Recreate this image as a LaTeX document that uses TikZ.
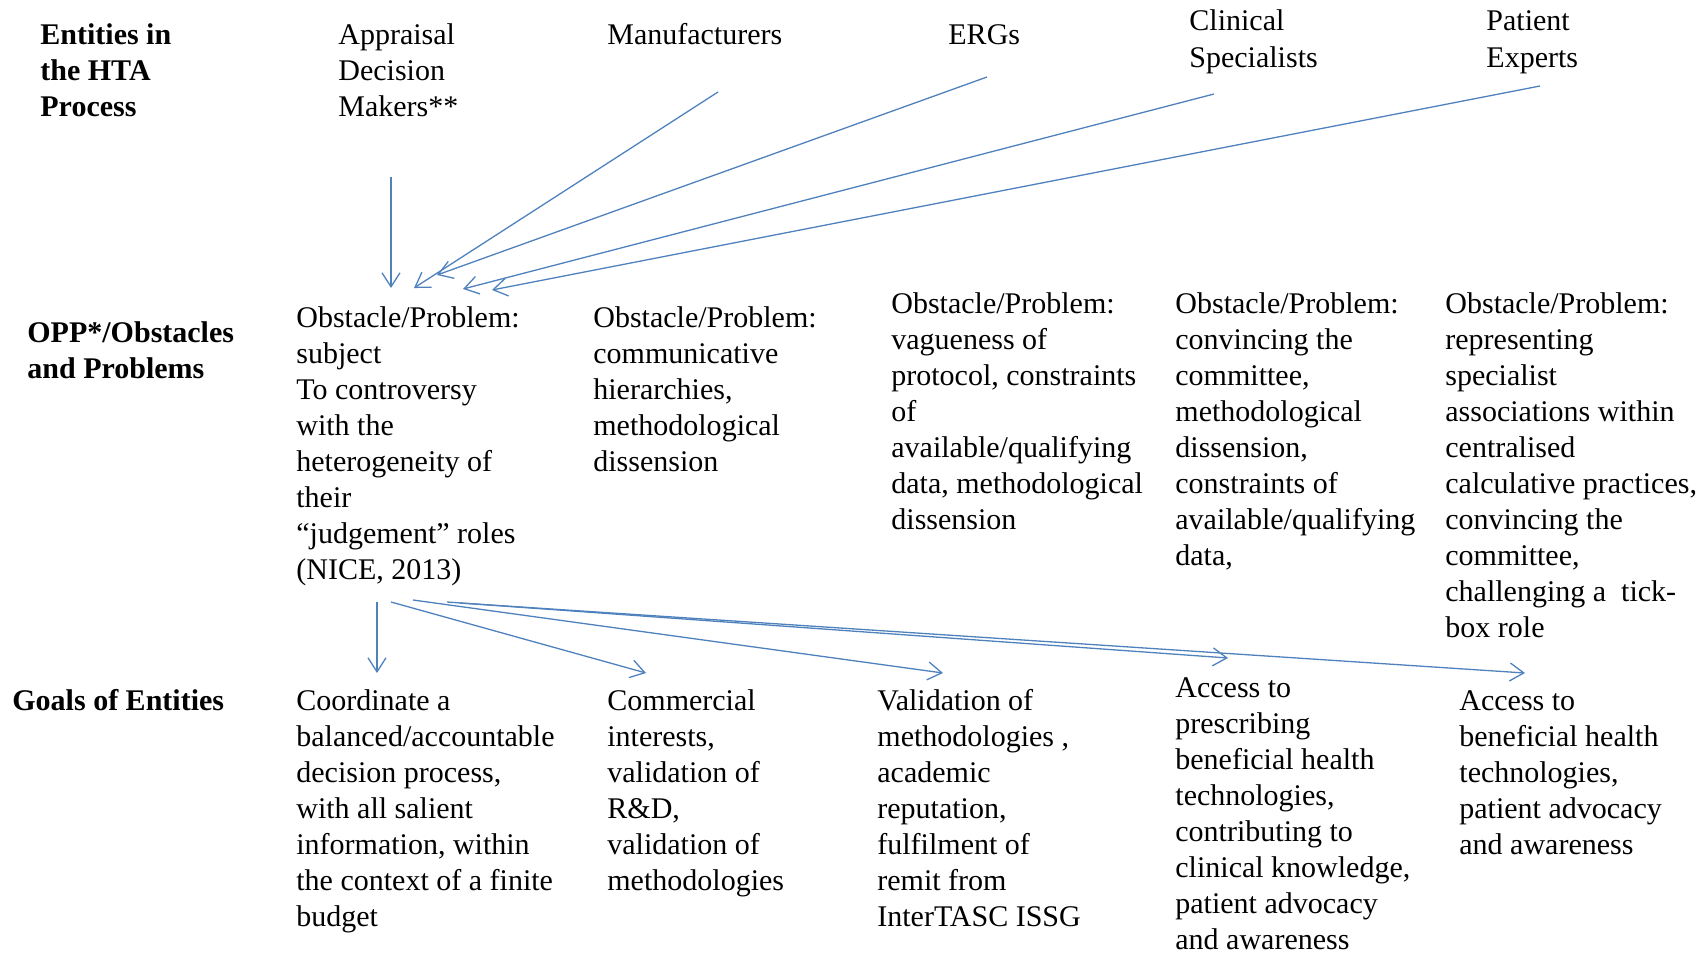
\documentclass[tikz,border=0pt]{standalone}
\usepackage{fontspec}
\setmainfont{Liberation Serif}
\usetikzlibrary{arrows.meta}
\definecolor{linkblue}{HTML}{4F81BD}
% multi-line text block whose baseline is that of its first line
\newcommand{\lines}[1]{\begin{tabular}[t]{@{}l@{}}#1\end{tabular}}

\begin{document}
\begin{tikzpicture}[x=0.5pt,y=-0.5pt,
  txt/.style={anchor=base west, inner sep=0pt, font=\fontsize{15}{18}\selectfont},
  head/.style={anchor=base west, inner sep=0pt, font=\fontsize{15}{18}\selectfont\bfseries},
  link/.style={draw=linkblue, line width=0.65pt, -{Straight Barb[length=7pt,width=9pt]}}]
\useasboundingbox (0,0) rectangle (1706,953);

% ---- row labels ----
\node[head] (hEnt)  at (40,44)  {\lines{Entities in\\the HTA\\Process}};
\node[head] (hOpp)  at (27,342) {\lines{OPP*/Obstacles\\and Problems}};
\node[head] (hGoal) at (12,710) {Goals of Entities};

% ---- entities ----
\node[txt] (eAdm) at (338,44)  {\lines{Appraisal\\Decision\\Makers**}};
\node[txt] (eMan) at (607,44)  {Manufacturers};
\node[txt] (eErg) at (948,44)  {ERGs};
\node[txt] (eCli) at (1189,31) {\lines{Clinical\\Specialists}};
\node[txt] (ePat) at (1486,31) {\lines{Patient\\Experts}};

% ---- obstacles and problems ----
\node[txt] (oAdm) at (296,327) {\lines{Obstacle/Problem:\\subject\\To controversy\\with the\\heterogeneity of\\their\\“judgement” roles\\(NICE, 2013)}};
\node[txt] (oMan) at (593,327) {\lines{Obstacle/Problem:\\communicative\\hierarchies,\\methodological\\dissension}};
\node[txt] (oErg) at (891,313) {\lines{Obstacle/Problem:\\vagueness of\\protocol, constraints\\of\\available/qualifying\\data, methodological\\dissension}};
\node[txt] (oCli) at (1175,313) {\lines{Obstacle/Problem:\\convincing the\\committee,\\methodological\\dissension,\\constraints of\\available/qualifying\\data,}};
\node[txt] (oPat) at (1445,313) {\lines{Obstacle/Problem:\\representing\\specialist\\associations within\\centralised\\calculative practices,\\convincing the\\committee,\\challenging a\ \ tick-\\box role}};

% ---- goals ----
\node[txt] (gAdm) at (296,710) {\lines{Coordinate a\\balanced/accountable\\decision process,\\with all salient\\information, within\\the context of a finite\\budget}};
\node[txt] (gMan) at (607,710) {\lines{Commercial\\interests,\\validation of\\R\&D,\\validation of\\methodologies}};
\node[txt] (gErg) at (877,710) {\lines{Validation of\\methodologies ,\\academic\\reputation,\\fulfilment of\\remit from\\InterTASC ISSG}};
\node[txt] (gCli) at (1175,697) {\lines{Access to\\prescribing\\beneficial health\\technologies,\\contributing to\\clinical knowledge,\\patient advocacy\\and awareness}};
\node[txt] (gPat) at (1459,710) {\lines{Access to\\beneficial health\\technologies,\\patient advocacy\\and awareness}};

% ---- connector end points ----
\coordinate (adm-out) at (391,177);
\coordinate (man-out) at (718,92);
\coordinate (erg-out) at (987,77);
\coordinate (cli-out) at (1214,94);
\coordinate (pat-out) at (1540,86);

\coordinate (adm-in)  at (391,288);
\coordinate (man-in)  at (414,288);
\coordinate (erg-in)  at (437,275);
\coordinate (cli-in)  at (463,289);
\coordinate (pat-in)  at (492,290);

\coordinate (o1) at (377,602);
\coordinate (o2) at (391,602);
\coordinate (o3) at (413,600);
\coordinate (o4) at (447,602);
\coordinate (o5) at (460,603);

\coordinate (g1) at (377,673);
\coordinate (g2) at (646,673);
\coordinate (g3) at (943,673);
\coordinate (g4) at (1228,658);
\coordinate (g5) at (1525,673);

% ---- entities to obstacles ----
\draw[link] (adm-out) -- (adm-in);
\draw[link] (man-out) -- (man-in);
\draw[link] (erg-out) -- (erg-in);
\draw[link] (cli-out) -- (cli-in);
\draw[link] (pat-out) -- (pat-in);

% ---- obstacles to goals ----
\draw[link] (o1) -- (g1);
\draw[link] (o2) -- (g2);
\draw[link] (o3) -- (g3);
\draw[link] (o4) -- (g4);
\draw[link] (o5) -- (g5);
\end{tikzpicture}
\end{document}
